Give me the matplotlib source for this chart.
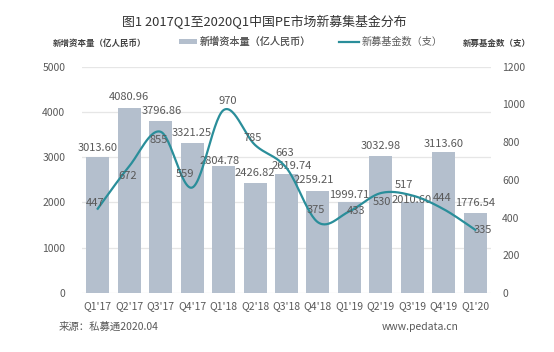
import numpy as np
import matplotlib
matplotlib.use("Agg")
import matplotlib.pyplot as plt
from matplotlib.patches import Patch
from matplotlib.lines import Line2D

plt.rcParams['font.family'] = ['Noto Sans CJK SC', 'DejaVu Sans']

quarters = ["Q1'17", "Q2'17", "Q3'17", "Q4'17", "Q1'18", "Q2'18", "Q3'18",
            "Q4'18", "Q1'19", "Q2'19", "Q3'19", "Q4'19", "Q1'20"]
capital = [3013.60, 4080.96, 3796.86, 3321.25, 2804.78, 2426.82, 2619.74,
           2259.21, 1999.71, 3032.98, 2010.60, 3113.60, 1776.54]
funds = [447, 672, 855, 559, 970, 785, 663, 375, 433, 530, 517, 444, 335]

# label placement (pixels): (dx, dy), dy positive = up
capital_offsets = [(0, 9), (0, 11), (1, 10), (0, 10), (-4, 5), (0, 10), (5, 8),
                   (-4, 11), (0, 7), (0, 10), (-1, 2), (0, 8), (0, 10)]
fund_offsets = [(-3, 6), (-2, -10), (-2, -8), (-7, 14), (4, 9), (-2, 7),
                (-2, 15), (-2, 12), (7, 0), (1, -9), (-8, 11), (-2, 11), (8, 0)]

BAR_COLOR = "#b4bfcd"
LINE_COLOR = "#2a8e9a"
TEXT = "#595959"
PX = 0.72  # pixels -> points at dpi 100

W, H = 554, 352
fig = plt.figure(figsize=(W / 100, H / 100), dpi=100)
ax = fig.add_axes([82 / W, 1 - 293 / H, (491 - 82) / W, (293 - 66.7) / H])
ax2 = ax.twinx()

x = np.arange(len(quarters))
ax.bar(x, capital, width=0.73, color=BAR_COLOR, zorder=2)
ax.set_xlim(-0.5, len(quarters) - 0.5)
ax.set_ylim(0, 5000)
ax.set_yticks(np.arange(0, 5001, 1000))
ax.yaxis.grid(True, color="#e6e6e6", linewidth=0.9, zorder=0)
ax.set_axisbelow(True)
ax.set_xticks(x)
ax.set_xticklabels(quarters)
for s in ax.spines.values():
    s.set_visible(False)
for s in ax2.spines.values():
    s.set_visible(False)
ax.tick_params(axis="both", length=0, labelsize=7.5, colors=TEXT)
ax.tick_params(axis="y", pad=12)
ax.tick_params(axis="x", pad=6)

for xi, v, (dx, dy) in zip(x, capital, capital_offsets):
    ax.annotate(f"{v:.2f}", (xi, v), xytext=(dx * PX, dy * PX), textcoords="offset points",
                ha="center", va="center", fontsize=8, color=TEXT, zorder=5)

# smoothed line (Bezier through points, computed in pixel-like space)
sx, sy = 31.46, 226.3 / 1200
px = x * sx
py = np.array(funds, dtype=float) * sy
pts = np.column_stack([px, py])
curve = []
n = len(pts)
for i in range(n - 1):
    p0 = pts[max(i - 1, 0)]
    p1 = pts[i]
    p2 = pts[i + 1]
    p3 = pts[min(i + 2, n - 1)]
    c1 = p1 + (p2 - p0) / 6
    c2 = p2 - (p3 - p1) / 6
    t = np.linspace(0, 1, 30)[:, None]
    seg = (1 - t) ** 3 * p1 + 3 * (1 - t) ** 2 * t * c1 + 3 * (1 - t) * t ** 2 * c2 + t ** 3 * p2
    curve.append(seg if i == 0 else seg[1:])
curve = np.vstack(curve)
ax2.plot(curve[:, 0] / sx, curve[:, 1] / sy, color=LINE_COLOR, linewidth=1.6, zorder=4)
ax2.set_ylim(0, 1200)
ax2.set_yticks(np.arange(0, 1201, 200))
ax2.tick_params(axis="y", length=0, labelsize=7.5, colors=TEXT, pad=8)

for xi, v, (dx, dy) in zip(x, funds, fund_offsets):
    ax2.annotate(str(v), (xi, v), xytext=(dx * PX, dy * PX), textcoords="offset points",
                 ha="center", va="center", fontsize=8, color=TEXT, zorder=6)

fig.text(264 / W, 1 - 22 / H, "图1 2017Q1至2020Q1中国PE市场新募集基金分布",
         ha="center", va="center", fontsize=9.3, color="#333333", fontweight="medium")
fig.text(53 / W, 1 - 43 / H, "新增资本量（亿人民币）", ha="left", va="center",
         fontsize=6.1, color="#404040", fontweight="bold")
fig.text(463 / W, 1 - 43 / H, "新募基金数（支）", ha="left", va="center",
         fontsize=6.1, color="#404040", fontweight="bold")

leg1 = fig.legend([Patch(facecolor=BAR_COLOR, edgecolor="none")], ["新增资本量（亿人民币）"],
                  loc="center left", bbox_to_anchor=(179 / W, 1 - 42 / H),
                  frameon=False, fontsize=7.3, labelcolor=TEXT, borderpad=0, borderaxespad=0,
                  handlelength=1.8, handleheight=0.5, handletextpad=0.2)
leg2 = fig.legend([Line2D([0], [0], color=LINE_COLOR, linewidth=1.6)], ["新募基金数（支）"],
                  loc="center left", bbox_to_anchor=(339 / W, 1 - 42 / H),
                  frameon=False, fontsize=7.3, labelcolor=TEXT, borderpad=0, borderaxespad=0,
                  handlelength=2.0, handletextpad=0.2)
fig.add_artist(leg1)

fig.text(59 / W, 1 - 327 / H, "来源：私募通2020.04", ha="left", va="center",
         fontsize=7.5, color=TEXT)
fig.text(382 / W, 1 - 327 / H, "www.pedata.cn", ha="left", va="center",
         fontsize=7.5, color=TEXT)

fig.savefig("out.png", dpi=100)
